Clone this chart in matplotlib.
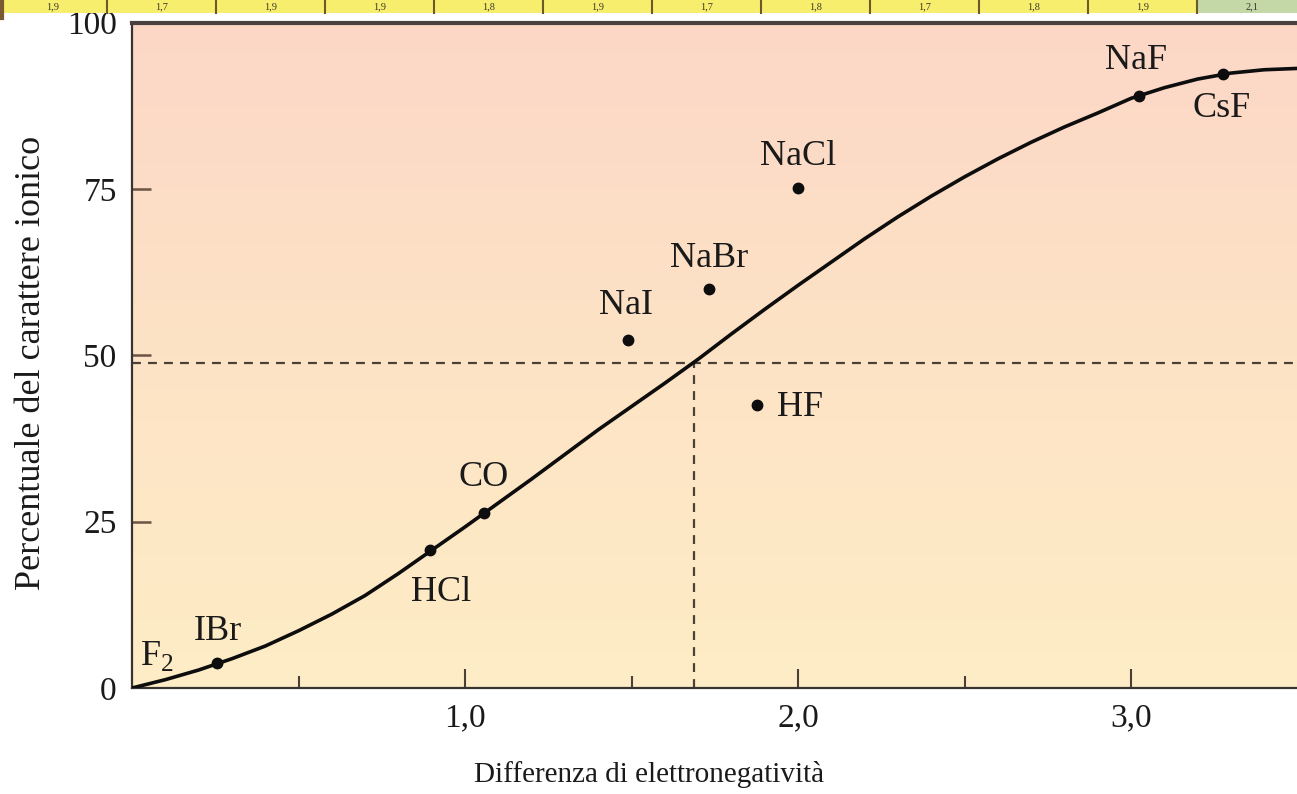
import numpy as np
import matplotlib
matplotlib.use("Agg")
import matplotlib.pyplot as plt
from matplotlib.patches import Rectangle
from matplotlib.colors import LinearSegmentedColormap

plt.rcParams["font.family"] = ["Liberation Serif", "DejaVu Serif"]
plt.rcParams["mathtext.fontset"] = "custom"
plt.rcParams["mathtext.rm"] = "Liberation Serif"

# Curve of percent ionic character vs electronegativity difference
curve_x = [0.0, 0.1, 0.2, 0.3, 0.4, 0.5, 0.6, 0.7, 0.8, 0.9, 1.0, 1.1, 1.2,
           1.3, 1.4, 1.5, 1.6, 1.7, 1.8, 1.9, 2.0, 2.1, 2.2, 2.3, 2.4, 2.5,
           2.6, 2.7, 2.8, 2.9, 3.0, 3.1, 3.2, 3.3, 3.4, 3.5]
curve_y = [0.0, 1.25, 2.7, 4.4, 6.3, 8.6, 11.1, 13.9, 17.2, 20.7, 24.2, 27.8,
           31.4, 35.1, 38.8, 42.3, 45.8, 49.4, 53.2, 56.9, 60.5, 64.0, 67.5,
           70.8, 73.9, 76.8, 79.5, 82.0, 84.3, 86.4, 88.6, 90.2, 91.5, 92.4,
           92.9, 93.1]

# Measured compounds
compounds = ["IBr", "HCl", "CO", "NaI", "NaBr", "NaCl", "HF", "NaF", "CsF"]
delta_en = [0.255, 0.895, 1.057, 1.489, 1.733, 2.0, 1.877, 3.024, 3.276]
ionic_pct = [3.8, 20.8, 26.3, 52.3, 59.9, 75.2, 42.5, 89.0, 92.2]

# 50 % reference
ref_x = 1.688
ref_y = 48.8

x_ticks = [1.0, 2.0, 3.0]
x_ticklabels = ["1,0", "2,0", "3,0"]
x_minor = [0.5, 1.5, 2.5]
y_ticks = [0, 25, 50, 75, 100]

# Header strip of electronegativity values
strip_values = ["1,9", "1,7", "1,9", "1,9", "1,8", "1,9", "1,7", "1,8",
                "1,7", "1,8", "1,9", "2,1"]

W, H = 1297, 794
fig = plt.figure(figsize=(W / 100, H / 100), dpi=100)
fig.patch.set_facecolor("white")

# header strip
strip_h = 13 / H
cell_w = 109 / W
x0 = -2 / W
for i, val in enumerate(strip_values):
    fc = "#c4d7a6" if i == len(strip_values) - 1 else "#f8ee6e"
    fig.patches.append(Rectangle((x0 + i * cell_w, 1 - strip_h), cell_w, strip_h,
                                 transform=fig.transFigure, facecolor=fc,
                                 edgecolor="none", zorder=1))
    if i > 0:
        fig.add_artist(plt.Line2D([x0 + i * cell_w] * 2, [1 - strip_h, 1],
                                  transform=fig.transFigure, color="#6b5a2a", lw=1.5))
    fig.text(x0 + (i + 0.5) * cell_w, 1 - 6.5 / H, val, ha="center", va="center",
             fontsize=7.5, color="#3a3a2a")
fig.add_artist(plt.Line2D([2 / W] * 2, [1 - strip_h - 5 / H, 1],
                          transform=fig.transFigure, color="#7a5a30", lw=3))

ax_left, ax_bottom = 132 / W, (H - 688) / H
ax = fig.add_axes([ax_left, ax_bottom, 1 - ax_left + 0.5 / W, (688 - 22.5) / H])
ax.set_xlim(0, 3.5)
ax.set_ylim(0, 100)

# background gradient: peach at top to pale yellow at bottom
cmap = LinearSegmentedColormap.from_list("bg", ["#feedc6", "#fde3c5", "#fcd7c7"])
grad = np.linspace(0, 1, 256).reshape(-1, 1)
ax.imshow(grad, cmap=cmap, origin="lower", aspect="auto",
          extent=(0, 3.5, 0, 100), zorder=0)

# dashed 50% guides
ax.plot([0, 3.5], [ref_y, ref_y], ls=(0, (4, 3.2)), color="#4a4038", lw=1.6, zorder=2)
ax.plot([ref_x, ref_x], [0, ref_y], ls=(0, (4, 3.2)), color="#4a4038", lw=1.6, zorder=2)

ax.plot(curve_x, curve_y, color="#0d0d0d", lw=2.6, zorder=3,
        solid_capstyle="round", solid_joinstyle="round")
ax.plot(delta_en, ionic_pct, "o", color="#0d0d0d", ms=7.5, zorder=4)

# label offsets in pixels (dx, dy) and alignment
offsets = {
    "IBr": (1, 31, "center"),
    "HCl": (11, -43, "center"),
    "CO": (0, 35, "center"),
    "NaI": (-2, 34, "center"),
    "NaBr": (0, 31, "center"),
    "NaCl": (0, 31, "center"),
    "HF": (20, -2, "left"),
    "NaF": (-3, 35, "center"),
    "CsF": (-1, -34, "center"),
}
for name, xv, yv in zip(compounds, delta_en, ionic_pct):
    dx, dy, ha = offsets[name]
    ax.annotate(name, (xv, yv), xytext=(dx * 0.72, dy * 0.72),
                textcoords="offset points", ha=ha, va="center",
                fontsize=26, color="#1a1a1a", zorder=5)
ax.annotate(r"F$_{\mathrm{2}}$", (0, 0), xytext=(8 * 0.72, 32 * 0.72),
            textcoords="offset points", ha="left", va="center",
            fontsize=26, color="#1a1a1a", zorder=5)

# spines and ticks
for s in ["left", "bottom"]:
    ax.spines[s].set_color("#3a3430")
    ax.spines[s].set_linewidth(1.6)
ax.spines["top"].set_color("#4a4040")
ax.spines["top"].set_linewidth(3)
ax.spines["right"].set_visible(False)

ax.set_xticks(x_ticks)
ax.set_xticklabels(x_ticklabels)
ax.set_xticks(x_minor, minor=True)
ax.set_yticks(y_ticks)
ax.set_yticklabels([str(v) for v in y_ticks])
ax.tick_params(axis="x", which="major", direction="in", length=14, width=1.5,
               color="#4a4038", pad=11, labelsize=24, labelcolor="#1a1a1a")
ax.tick_params(axis="x", which="minor", direction="in", length=8.5, width=1.5,
               color="#4a4038")
ax.tick_params(axis="y", which="major", direction="in", length=14, width=1.8,
               color="#6a5444", pad=11, labelsize=24, labelcolor="#1a1a1a")
ax.yaxis.get_major_ticks()[0].tick1line.set_visible(False)
ax.yaxis.get_major_ticks()[-1].tick1line.set_visible(False)

fig.text(649 / W, 1 - 774 / H, "Differenza di elettronegatività", ha="center",
         va="center", fontsize=21, color="#1a1a1a")
fig.text(32 / W, 1 - 363 / H, "Percentuale del carattere ionico", ha="center",
         va="center", rotation=90, fontsize=26, color="#1a1a1a")

fig.savefig("out.png", dpi=100, facecolor="white")
